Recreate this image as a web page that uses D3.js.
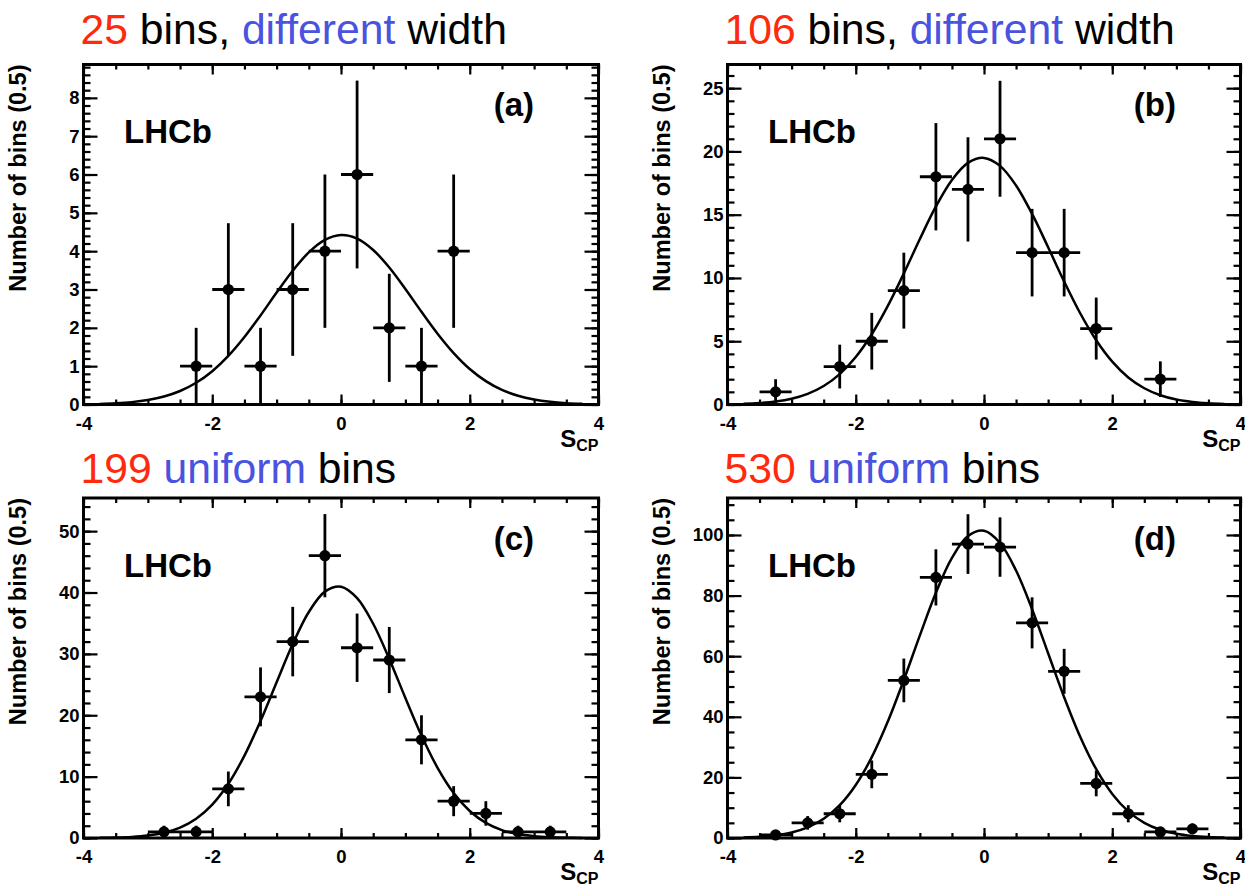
<!DOCTYPE html>
<html>
<head>
<meta charset="utf-8">
<script src="https://cdn.jsdelivr.net/npm/d3@7"></script>
<style>
  body { margin: 0; background: #fff; }
  svg { display: block; }
  text { font-family: "Liberation Sans", Arial, Helvetica, sans-serif; }
</style>
</head>
<body>
<div id="chart"></div>
<script>

// ---- data ----
var panelIds = ["(a)", "(b)", "(c)", "(d)"];
var binTotals = ["25", "106", "199", "530"];
var binKinds = ["different", "different", "uniform", "uniform"];

var centersA = [-2.25, -1.75, -1.25, -0.75, -0.25, 0.25, 0.75, 1.25, 1.75];
var countsA  = [1, 3, 1, 3, 4, 6, 2, 1, 4];
var errorsA  = [1, 1.73, 1, 1.73, 2, 2.45, 1.41, 1, 2];

var centersB = [-3.25, -2.25, -1.75, -1.25, -0.75, -0.25, 0.25, 0.75, 1.25, 1.75, 2.75];
var countsB  = [1, 3, 5, 9, 18, 17, 21, 12, 12, 6, 2];
var errorsB  = [1, 1.73, 2.24, 3, 4.24, 4.12, 4.58, 3.46, 3.46, 2.45, 1.41];

var centersC = [-2.75, -2.25, -1.75, -1.25, -0.75, -0.25, 0.25, 0.75, 1.25, 1.75, 2.25, 2.75, 3.25];
var countsC  = [1, 1, 8, 23, 32, 46, 31, 29, 16, 6, 4, 1, 1];
var errorsC  = [1, 1, 2.83, 4.8, 5.66, 6.78, 5.57, 5.39, 4, 2.45, 2, 1, 1];

var centersD = [-3.25, -2.75, -2.25, -1.75, -1.25, -0.75, -0.25, 0.25, 0.75, 1.25, 1.75, 2.25, 2.75, 3.25];
var countsD  = [1, 5, 8, 21, 52, 86, 97, 96, 71, 55, 18, 8, 2, 3];
var errorsD  = [1, 2.24, 2.83, 4.58, 7.21, 9.27, 9.85, 9.8, 8.43, 7.42, 4.24, 2.83, 1.41, 1.73];

// fitted curve, read at these S_CP values
var curveX = [-3.75, -3.5, -3.25, -3, -2.75, -2.5, -2.25, -2, -1.75, -1.5, -1.25, -1, -0.75, -0.5, -0.25,
              0, 0.25, 0.5, 0.75, 1, 1.25, 1.5, 1.75, 2, 2.25, 2.5, 2.75, 3, 3.25, 3.5, 3.75];
var fitA = [0.015, 0.032, 0.062, 0.117, 0.208, 0.352, 0.567, 0.869, 1.268, 1.76, 2.324, 2.92, 3.49, 3.968, 4.294,
            4.419, 4.328, 4.032, 3.574, 3.014, 2.418, 1.846, 1.341, 0.926, 0.609, 0.381, 0.227, 0.128, 0.069, 0.035, 0.017];
var fitB = [0.055, 0.117, 0.238, 0.46, 0.842, 1.462, 2.404, 3.752, 5.552, 7.788, 10.36, 13.08, 15.65, 17.75, 19.1,
            19.49, 18.86, 17.31, 15.06, 12.43, 9.72, 7.21, 5.08, 3.39, 2.14, 1.286, 0.732, 0.395, 0.202, 0.098, 0.045];
var fitC = [0.028, 0.073, 0.178, 0.402, 0.852, 1.688, 3.131, 5.436, 8.829, 13.42, 19.07, 25.38, 31.6, 36.82, 40.14,
            40.95, 39.09, 34.91, 29.18, 22.82, 16.7, 11.44, 7.33, 4.4, 2.465, 1.294, 0.636, 0.292, 0.126, 0.051, 0.019];
var fitD = [0.181, 0.414, 0.893, 1.817, 3.49, 6.33, 10.83, 17.5, 26.68, 38.41, 52.16, 66.88, 80.93, 92.43, 99.64,
            101.38, 97.36, 88.26, 75.51, 60.97, 46.47, 33.43, 22.7, 14.55, 8.8, 5.02, 2.71, 1.377, 0.661, 0.3, 0.128];

var xTickLabels = [-4, -2, 0, 2, 4];
var yTicksA = [0, 1, 2, 3, 4, 5, 6, 7, 8];
var yTicksB = [0, 5, 10, 15, 20, 25];
var yTicksC = [0, 10, 20, 30, 40, 50];
var yTicksD = [0, 20, 40, 60, 80, 100];
var yMinorStep = [0.2, 1, 2, 5];
var yMaxes = [8.87, 26.87, 55.4, 112.2];

(function drawPanels(){

  var W = 1245, H = 890;
  var red = "#ff2a0d", blue = "#4a52e0";

  // where each frame sits on the page
  var layout = [
    {left: 83.5,  top: 64.5, width: 515, height: 340, titleY: 44},
    {left: 727.5, top: 64.5, width: 513, height: 340, titleY: 44},
    {left: 83.5,  top: 498,  width: 515, height: 340, titleY: 483},
    {left: 727.5, top: 498,  width: 513, height: 340, titleY: 483}
  ];

  var panels = [
    {centers: centersA, counts: countsA, errors: errorsA, fit: fitA, yTicks: yTicksA},
    {centers: centersB, counts: countsB, errors: errorsB, fit: fitB, yTicks: yTicksB},
    {centers: centersC, counts: countsC, errors: errorsC, fit: fitC, yTicks: yTicksC},
    {centers: centersD, counts: countsD, errors: errorsD, fit: fitD, yTicks: yTicksD}
  ];

  var svg = d3.select("#chart")
    .append("svg")
      .attr("width", W)
      .attr("height", H);

  panels.forEach(function(p, i){
    var L = layout[i];
    var g = svg.append("g")
      .attr("transform", "translate(" + [L.left, L.top] + ")");

    var x = d3.scaleLinear().domain([-4, 4]).range([0, L.width]);
    var y = d3.scaleLinear().domain([0, yMaxes[i]]).range([L.height, 0]);

    // title above the frame
    var title = svg.append("text")
      .attr("x", L.left - 3)
      .attr("y", L.titleY)
      .attr("font-size", "42.7px")
      .style("white-space", "pre");
    title.append("tspan").attr("fill", red).text(binTotals[i]);
    if (binKinds[i] == "different") {
      title.append("tspan").attr("fill", "#000").text(" bins, ");
      title.append("tspan").attr("fill", blue).text("different");
      title.append("tspan").attr("fill", "#000").text(" width");
    } else {
      title.append("tspan").attr("fill", blue).text(" uniform");
      title.append("tspan").attr("fill", "#000").text(" bins");
    }

    // fit curve
    var line = d3.line()
      .x(function(d){ return x(d[0]); })
      .y(function(d){ return y(d[1]); })
      .curve(d3.curveCatmullRom);

    g.append("path")
      .datum(curveX.map(function(cx, k){ return [cx, p.fit[k]]; }))
      .attr("d", line)
      .attr("fill", "none")
      .attr("stroke", "#000")
      .attr("stroke-width", 2.5);

    // data points with error bars
    var pts = p.centers.map(function(c, k){
      return {x: c, n: p.counts[k], e: p.errors[k]};
    });

    var pt = g.selectAll(".pt")
      .data(pts)
      .enter().append("g")
        .attr("class", "pt");

    pt.append("line")
      .attr("x1", function(d){ return x(d.x - 0.25); })
      .attr("x2", function(d){ return x(d.x + 0.25); })
      .attr("y1", function(d){ return y(d.n); })
      .attr("y2", function(d){ return y(d.n); })
      .attr("stroke", "#000")
      .attr("stroke-width", 2.8);

    pt.append("line")
      .attr("x1", function(d){ return x(d.x); })
      .attr("x2", function(d){ return x(d.x); })
      .attr("y1", function(d){ return y(Math.max(0, d.n - d.e)); })
      .attr("y2", function(d){ return y(d.n + d.e); })
      .attr("stroke", "#000")
      .attr("stroke-width", 2.8);

    pt.append("circle")
      .attr("cx", function(d){ return x(d.x); })
      .attr("cy", function(d){ return y(d.n); })
      .attr("r", 5.6)
      .attr("fill", "#000");

    // axes: ticks on all four sides pointing in
    var yMinor = d3.range(0, yMaxes[i], yMinorStep[i]);
    var xMinor = d3.range(-4, 4.001, 0.5);

    function style(sel){
      sel.select(".domain").remove();
      sel.selectAll("line").attr("stroke", "#000").attr("stroke-width", 2.2);
      sel.selectAll("text")
        .attr("fill", "#000")
        .attr("font-family", "'Liberation Sans', Arial, sans-serif")
        .attr("font-weight", "bold")
        .attr("font-size", "18.5px");
    }

    g.append("g").call(d3.axisLeft(y).tickValues(p.yTicks).tickSizeInner(-14).tickSizeOuter(0)
      .tickPadding(4).tickFormat(function(d){ return String(d); })).call(style);
    g.append("g").call(d3.axisLeft(y).tickValues(yMinor).tickSizeInner(-7).tickSizeOuter(0)
      .tickFormat("")).call(style);
    g.append("g").attr("transform", "translate(" + L.width + ",0)")
      .call(d3.axisRight(y).tickValues(p.yTicks).tickSizeInner(-14).tickSizeOuter(0).tickFormat("")).call(style);
    g.append("g").attr("transform", "translate(" + L.width + ",0)")
      .call(d3.axisRight(y).tickValues(yMinor).tickSizeInner(-7).tickSizeOuter(0).tickFormat("")).call(style);

    g.append("g").attr("transform", "translate(0," + L.height + ")")
      .call(d3.axisBottom(x).tickValues(xTickLabels).tickSizeInner(-10).tickSizeOuter(0)
        .tickPadding(12).tickFormat(function(d){ return String(d); })).call(style);
    g.append("g").attr("transform", "translate(0," + L.height + ")")
      .call(d3.axisBottom(x).tickValues(xMinor).tickSizeInner(-5).tickSizeOuter(0).tickFormat("")).call(style);
    g.append("g")
      .call(d3.axisTop(x).tickValues(xTickLabels).tickSizeInner(-10).tickSizeOuter(0).tickFormat("")).call(style);
    g.append("g")
      .call(d3.axisTop(x).tickValues(xMinor).tickSizeInner(-5).tickSizeOuter(0).tickFormat("")).call(style);

    // frame
    g.append("rect")
      .attr("width", L.width)
      .attr("height", L.height)
      .attr("fill", "none")
      .attr("stroke", "#000")
      .attr("stroke-width", 3);

    // labels
    g.append("text")
      .attr("x", 40.5)
      .attr("y", 78.5)
      .attr("font-weight", "bold")
      .attr("font-size", "33px")
      .text("LHCb");

    g.append("text")
      .attr("x", L.width - 64.5)
      .attr("y", 51.5)
      .attr("text-anchor", "end")
      .attr("font-weight", "bold")
      .attr("font-size", "33px")
      .text(panelIds[i]);

    g.append("text")
      .attr("transform", "translate(-58,0)rotate(-90)")
      .attr("text-anchor", "end")
      .attr("font-weight", "bold")
      .attr("font-size", "23.5px")
      .text("Number of bins (0.5)");

    var xt = g.append("text")
      .attr("x", L.width)
      .attr("y", L.height + 42)
      .attr("text-anchor", "end")
      .attr("font-weight", "bold")
      .attr("font-size", "24px");
    xt.append("tspan").text("S");
    xt.append("tspan").attr("font-size", "16px").attr("dy", 4).text("CP");
  });

})();
</script>
</body>
</html>
